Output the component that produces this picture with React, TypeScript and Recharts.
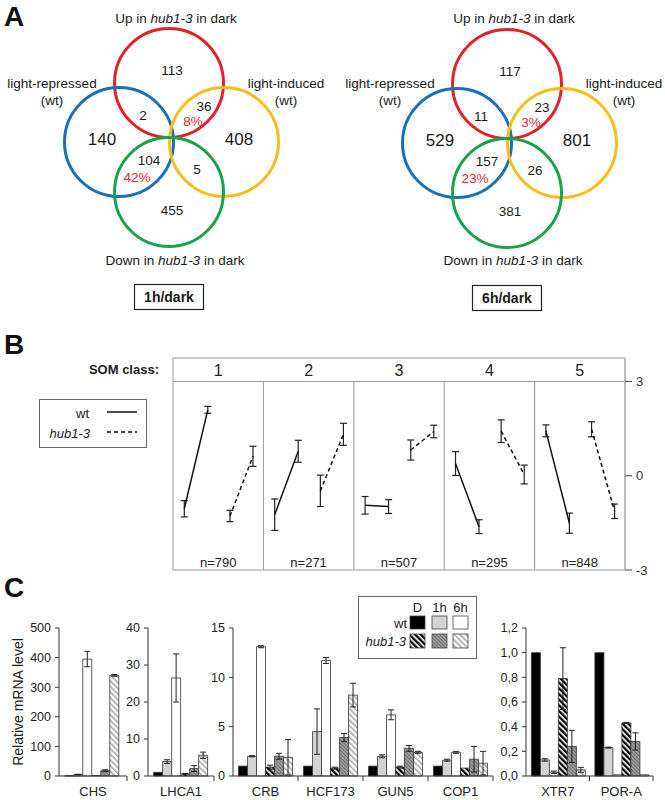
import React from 'react';
import {
  ScatterChart,
  Scatter,
  BarChart,
  Bar,
  XAxis,
  YAxis,
  ReferenceLine,
  ReferenceArea,
  ErrorBar,
  Legend
} from 'recharts';

const FONT = '"Liberation Sans", Arial, Helvetica, sans-serif';
const INK = '#1a1a1a';

// ---------- A: Venn diagrams ----------
const vennPanels = ['1h/dark', '6h/dark'];
const vennSetNames = ['Up in hub1-3 in dark', 'light-repressed\n(wt)', 'light-induced\n(wt)', 'Down in hub1-3 in dark'];
const vennColors = ['#e4202a', '#1a70b7', '#f6bd1d', '#18a24a'];
// regions: up, up&rep, up&ind, rep, ind, down&rep, down&ind, down
const counts1h = [113, 2, 36, 140, 408, 104, 5, 455];
const counts6h = [117, 11, 23, 529, 801, 157, 26, 381];
const overlapPct1h = ['8%', '42%'];
const overlapPct6h = ['3%', '23%'];

// layout of one diagram (px); the second one is shifted by VENN_DX
const VENN_DX = 338;
const VENN_R = 54.5;
const circlePos = [[169, 83], [119, 142], [224, 142], [169, 192]];
const regionPos = [[172, 70], [143, 115], [204, 106], [102, 139], [239, 139], [149, 160], [197, 169], [172, 210]];
const bigRegion = [false, false, false, true, true, false, false, false];
const pctPos = [[193, 121], [137, 177]];
const setLabelPos = [[176, 18], [52, 83], [286, 83], [175, 260]];
const boxPos = [169, 297];

// ---------- B: SOM classes ----------
const somClasses = ['1', '2', '3', '4', '5'];
const somN = [790, 271, 507, 295, 848];
const wtStart = [-1.05, -1.24, -0.94, 0.39, 1.43];
const wtStartErr = [0.26, 0.5, 0.28, 0.38, 0.19];
const wtEnd = [2.1, 0.78, -0.98, -1.62, -1.51];
const wtEndErr = [0.11, 0.35, 0.22, 0.22, 0.32];
const hubStart = [-1.28, -0.48, 0.82, 1.42, 1.48];
const hubStartErr = [0.18, 0.5, 0.32, 0.36, 0.24];
const hubEnd = [0.62, 1.32, 1.41, 0.04, -1.13];
const hubEndErr = [0.32, 0.35, 0.2, 0.3, 0.23];
const SOM_X = [0.125, 0.385, 0.63, 0.885];

// ---------- C: qRT-PCR ----------
const genes = ['CHS', 'LHCA1', 'CRB', 'HCF173', 'GUN5', 'COP1', 'XTR7', 'POR-A'];
const wtD = [1, 1, 1, 1, 1, 1, 1, 1];
const wt1h = [5, 3.9, 2.0, 4.5, 2.0, 1.6, 0.13, 0.23];
const wt1hErr = [1, 0.5, 0.05, 2.3, 0.15, 0.1, 0.01, 0.004];
const wt6h = [395, 26.5, 13.1, 11.7, 6.2, 2.4, 0.03, 0.01];
const wt6hErr = [26, 6.5, 0.1, 0.3, 0.5, 0.1, 0.01, 0];
const hubD = [1.5, 0.6, 0.9, 0.8, 0.9, 0.8, 0.79, 0.43];
const hubDErr = [0, 0.1, 0.2, 0.1, 0.1, 0, 0.25, 0.005];
const hub1h = [18, 2.0, 2.0, 3.9, 2.8, 1.7, 0.24, 0.28];
const hub1hErr = [3, 0.8, 0.3, 0.4, 0.3, 1.3, 0.13, 0.07];
const hub6h = [340, 5.6, 1.9, 8.2, 2.4, 1.3, 0.05, 0.01];
const hub6hErr = [3, 0.85, 1.8, 1.2, 0.1, 1.2, 0.02, 0];

const geneGroups = [[0], [1], [2, 3, 4, 5], [6, 7]];
const groupTicks = [
  [0, 100, 200, 300, 400, 500],
  [0, 10, 20, 30, 40],
  [0, 5, 10, 15],
  [0, 0.2, 0.4, 0.6, 0.8, 1.0, 1.2]
];

const barSeries = [
  { key: 'wtD', fill: '#000' },
  { key: 'wt1h', fill: '#d3d3d3', err: 'wt1hErr' },
  { key: 'wt6h', fill: '#fff', err: 'wt6hErr' },
  { key: 'hubD', fill: 'url(#patHubD)', err: 'hubDErr' },
  { key: 'hub1h', fill: 'url(#patHub1h)', err: 'hub1hErr' },
  { key: 'hub6h', fill: 'url(#patHub6h)', err: 'hub6hErr' }
];

// chart boxes for panel C (left, width, y-axis width, right margin)
const cLayout = [
  { left: 0, width: 135, yw: 59, right: 8 },
  { left: 116, width: 107, yw: 32, right: 9 },
  { left: 200, width: 301, yw: 33, right: 8 },
  { left: 486, width: 179, yw: 40, right: 12 }
];

const rich = (s: string) =>
  s.split(/(hub1-3)/).map((part, i) =>
    part === 'hub1-3' ? <tspan key={i} fontStyle="italic">{part}</tspan> : part
  );

// build venn label tables
const vennCircles = vennColors.map((color, i) => ({
  color,
  points: vennPanels.map((_, p) => ({ x: circlePos[i][0] + p * VENN_DX, y: circlePos[i][1] + p }))
}));

const vennLabels: any[] = [];
const vennBoxes: any[] = [];
vennPanels.forEach((title, p) => {
  const dx = p * VENN_DX;
  const counts = p === 0 ? counts1h : counts6h;
  const pct = p === 0 ? overlapPct1h : overlapPct6h;
  counts.forEach((c, i) =>
    vennLabels.push({ x: regionPos[i][0] + dx, y: regionPos[i][1] + p, text: String(c), size: bigRegion[i] ? 17 : 13.5, color: INK })
  );
  pct.forEach((t, i) =>
    vennLabels.push({ x: pctPos[i][0] + dx, y: pctPos[i][1] + p, text: t, size: 13.5, color: '#e3262c' })
  );
  vennSetNames.forEach((n, i) =>
    vennLabels.push({ x: setLabelPos[i][0] + dx, y: setLabelPos[i][1], text: n, size: 13.5, color: INK })
  );
  vennBoxes.push({ x: boxPos[0] + dx, y: boxPos[1] + p, text: title });
});

const TextShape = (props: any) => {
  const { cx, cy, payload } = props;
  const lines = String(payload.text).split('\n');
  return (
    <text
      x={cx}
      y={cy}
      textAnchor="middle"
      fontFamily={FONT}
      fontSize={payload.size}
      fill={payload.color}
      fontWeight={payload.bold ? 'bold' : 'normal'}
    >
      {lines.map((ln, i) => (
        <tspan key={i} x={cx} dy={i === 0 ? '0.35em' : '1.28em'}>
          {rich(ln)}
        </tspan>
      ))}
    </text>
  );
};

const BoxShape = (props: any) => {
  const { cx, cy, payload } = props;
  return (
    <g>
      <rect x={cx - 34.5} y={cy - 12.5} width={69} height={25} fill="#fff" stroke="#222" strokeWidth={1.2} />
      <text x={cx} y={cy} dy="0.35em" textAnchor="middle" fontFamily={FONT} fontSize={14} fontWeight="bold" fill={INK}>
        {payload.text}
      </text>
    </g>
  );
};

function VennPanel() {
  return (
    <ScatterChart width={665} height={330} margin={{ top: 0, right: 0, bottom: 0, left: 0 }}>
      <XAxis type="number" dataKey="x" domain={[0, 665]} hide />
      <YAxis type="number" dataKey="y" domain={[0, 330]} reversed hide />
      {vennCircles.map((c) => (
        <Scatter
          key={c.color}
          data={c.points}
          isAnimationActive={false}
          shape={(p: any) => <circle cx={p.cx} cy={p.cy} r={VENN_R} fill="none" stroke={c.color} strokeWidth={3} />}
        />
      ))}
      <Scatter data={vennLabels} isAnimationActive={false} shape={TextShape} />
      <Scatter data={vennBoxes} isAnimationActive={false} shape={BoxShape} />
    </ScatterChart>
  );
}

// ---------- B ----------
const seg = (i: number, a: number, ae: number, b: number, be: number, k: number) => [
  { x: i + SOM_X[k], y: a, e: ae },
  { x: i + SOM_X[k + 1], y: b, e: be }
];
const wtSegs = somClasses.map((_, i) => seg(i, wtStart[i], wtStartErr[i], wtEnd[i], wtEndErr[i], 0));
const hubSegs = somClasses.map((_, i) => seg(i, hubStart[i], hubStartErr[i], hubEnd[i], hubEndErr[i], 2));
const somHeader = somClasses.map((c, i) => ({ x: i + 0.5, y: 3.35, text: c, size: 16, color: '#222' }));
const somCounts = somN.map((n, i) => ({ x: i + 0.5, y: -2.75, text: `n=${n}`, size: 13, color: '#222' }));

const SomLegend = () => (
  <svg width={108} height={49} style={{ display: 'block' }}>
    <rect x={0.5} y={0.5} width={107} height={48} fill="#fff" stroke="#666" />
    <text x={50} y={14} dy="0.35em" textAnchor="end" fontFamily={FONT} fontSize={13} fill="#222">wt</text>
    <line x1={68} x2={98} y1={13} y2={13} stroke="#111" strokeWidth={1.5} />
    <text x={51} y={34} dy="0.35em" textAnchor="end" fontFamily={FONT} fontSize={13} fontStyle="italic" fill="#222">hub1-3</text>
    <line x1={68} x2={98} y1={33} y2={33} stroke="#111" strokeWidth={1.5} strokeDasharray="4 3" />
  </svg>
);

function SomPanel() {
  const grey = '#999';
  return (
    <ScatterChart width={665} height={240} margin={{ top: 18, right: 10, bottom: 10, left: 173 }}>
      <XAxis type="number" dataKey="x" domain={[0, 5]} hide />
      <YAxis
        type="number"
        dataKey="y"
        orientation="right"
        domain={[-3, 3.75]}
        ticks={[-3, 0, 3]}
        interval={0}
        width={30}
        axisLine={{ stroke: '#bbb', strokeWidth: 2 }}
        tickLine={{ stroke: '#444' }}
        tickSize={7}
        tickMargin={4}
        tick={{ fontSize: 13, fill: '#333', fontFamily: FONT }}
      />
      <Legend
        layout="horizontal"
        verticalAlign="middle"
        align="center"
        content={<SomLegend />}
        wrapperStyle={{ left: 39, top: 59, width: 108, height: 49 }}
      />
      <ReferenceArea
        x1={0}
        x2={5}
        y1={3}
        y2={3.75}
        fill="none"
        stroke="none"
        label={{ value: 'SOM class:', position: 'left', offset: 14, fontSize: 13, fontWeight: 'bold', fill: '#222', fontFamily: FONT }}
      />
      <ReferenceLine y={3.75} stroke={grey} />
      <ReferenceLine y={3} stroke={grey} />
      <ReferenceLine y={-3} stroke={grey} />
      <ReferenceLine x={0} stroke={grey} />
      {[1, 2, 3, 4].map((x) => (
        <ReferenceLine key={x} segment={[{ x, y: -3 }, { x, y: 3 }]} stroke={grey} />
      ))}
      <Scatter data={somHeader} isAnimationActive={false} shape={TextShape} />
      <Scatter data={somCounts} isAnimationActive={false} shape={TextShape} />
      {wtSegs.map((d, i) => (
        <Scatter
          key={`wt${i}`}
          data={d}
          fill="#111"
          isAnimationActive={false}
          line={{ stroke: '#111', strokeWidth: 1.5 }}
          shape={() => <g />}
        >
          <ErrorBar dataKey="e" direction="y" width={3.5} stroke="#222" strokeWidth={1.2} />
        </Scatter>
      ))}
      {hubSegs.map((d, i) => (
        <Scatter
          key={`hub${i}`}
          data={d}
          fill="#111"
          isAnimationActive={false}
          line={{ stroke: '#111', strokeWidth: 1.5, strokeDasharray: '4 3' }}
          shape={() => <g />}
        >
          <ErrorBar dataKey="e" direction="y" width={3.5} stroke="#222" strokeWidth={1.2} />
        </Scatter>
      ))}
    </ScatterChart>
  );
}

// ---------- C ----------
const geneRows = genes.map((gene, i) => ({
  gene,
  wtD: wtD[i],
  wt1h: wt1h[i],
  wt1hErr: wt1hErr[i],
  wt6h: wt6h[i],
  wt6hErr: wt6hErr[i],
  hubD: hubD[i],
  hubDErr: hubDErr[i],
  hub1h: hub1h[i],
  hub1hErr: hub1hErr[i],
  hub6h: hub6h[i],
  hub6hErr: hub6hErr[i]
}));

const Patterns = () => (
  <svg width={0} height={0} style={{ position: 'absolute' }}>
    <defs>
      <pattern id="patHubD" width={4} height={4} patternUnits="userSpaceOnUse" patternTransform="rotate(-45)">
        <rect width={4} height={4} fill="#fff" />
        <rect width={2.3} height={4} fill="#000" />
      </pattern>
      <pattern id="patHub1h" width={2.5} height={2.5} patternUnits="userSpaceOnUse" patternTransform="rotate(-45)">
        <rect width={2.5} height={2.5} fill="#a2a2a2" />
        <rect width={1} height={2.5} fill="#6c6c6c" />
      </pattern>
      <pattern id="patHub6h" width={4} height={4} patternUnits="userSpaceOnUse" patternTransform="rotate(-45)">
        <rect width={4} height={4} fill="#fff" />
        <rect width={1.6} height={4} fill="#a8a8a8" />
      </pattern>
    </defs>
  </svg>
);

const GeneTick = (props: any) => {
  const { x, y, payload, half } = props;
  return (
    <g>
      <line x1={x + half} x2={x + half} y1={y - 11} y2={y - 6} stroke="#333" />
      <text x={x} y={y} dy="0.71em" textAnchor="middle" fontFamily={FONT} fontSize={13} fill="#222">
        {payload.value}
      </text>
    </g>
  );
};

const GenotypeLegend = () => {
  const cols = [52, 74, 95];
  const wtFills = ['#000', '#d3d3d3', '#fff'];
  const hubFills = ['url(#patHubD)', 'url(#patHub1h)', 'url(#patHub6h)'];
  return (
    <svg width={119} height={63} style={{ display: 'block' }}>
      <rect x={0.5} y={0.5} width={118} height={62} fill="#fff" stroke="#666" />
      {['D', '1h', '6h'].map((t, i) => (
        <text key={t} x={cols[i] + 7.5} y={11} dy="0.35em" textAnchor="middle" fontFamily={FONT} fontSize={13} fill="#222">{t}</text>
      ))}
      <text x={49} y={27} dy="0.35em" textAnchor="end" fontFamily={FONT} fontSize={13} fill="#222">wt</text>
      <text x={48} y={45} dy="0.35em" textAnchor="end" fontFamily={FONT} fontSize={13} fontStyle="italic" fill="#222">hub1-3</text>
      {cols.map((cx, i) => (
        <g key={cx}>
          <rect x={cx} y={20} width={15} height={13} fill={wtFills[i]} stroke="#444" strokeWidth={0.8} />
          <rect x={cx} y={38} width={15} height={14} fill={hubFills[i]} stroke="#444" strokeWidth={0.8} />
        </g>
      ))}
    </svg>
  );
};

function GeneChart({ g }: { g: number }) {
  const lay = cLayout[g];
  const rows = geneGroups[g].map((i) => geneRows[i]);
  const ticks = groupTicks[g];
  const plotW = lay.width - lay.yw - lay.right;
  const half = plotW / rows.length / 2;
  const fmt = (v: number) => (g === 3 ? v.toFixed(1).replace('.', ',') : String(v));
  return (
    <div style={{ position: 'absolute', left: lay.left, top: 600 }}>
      <BarChart
        width={lay.width}
        height={200}
        data={rows}
        margin={{ top: 28, right: lay.right, bottom: 0, left: 0 }}
        barGap={0}
        barCategoryGap="8.5%"
      >
        <XAxis
          dataKey="gene"
          interval={0}
          height={24}
          tickLine={false}
          tickSize={0}
          tickMargin={11}
          axisLine={{ stroke: '#333' }}
          tick={(p: any) => <GeneTick {...p} half={half} />}
        />
        <YAxis
          width={lay.yw}
          domain={[ticks[0], ticks[ticks.length - 1]]}
          ticks={ticks}
          interval={0}
          tickFormatter={fmt}
          axisLine={{ stroke: '#333' }}
          tickLine={{ stroke: '#333' }}
          tickSize={4}
          tickMargin={4}
          tick={{ fontSize: 12.5, fill: '#222', fontFamily: FONT }}
          label={
            g === 0
              ? { value: 'Relative mRNA level', angle: -90, position: 'insideLeft', offset: 18, style: { fontSize: 14, fill: '#222', fontFamily: FONT, textAnchor: 'middle' } }
              : undefined
          }
        />
        {g === 2 && (
          <Legend
            layout="horizontal"
            verticalAlign="middle"
            align="center"
            content={<GenotypeLegend />}
            wrapperStyle={{ left: 158, top: -4, width: 119, height: 63 }}
          />
        )}
        {barSeries.map((s) => (
          <Bar key={s.key} dataKey={s.key} fill={s.fill} stroke="#333" strokeWidth={0.8} isAnimationActive={false}>
            {s.err && <ErrorBar dataKey={s.err} width={3} stroke="#222" strokeWidth={1} direction="y" />}
          </Bar>
        ))}
      </BarChart>
    </div>
  );
}

const letter = (t: string, top: number) => (
  <div
    style={{
      position: 'absolute',
      left: 4,
      top,
      fontFamily: FONT,
      fontWeight: 'bold',
      fontSize: 28,
      lineHeight: '28px',
      color: '#111'
    }}
  >
    {t}
  </div>
);

export default function App() {
  return (
    <div style={{ position: 'absolute', left: 0, top: 0, width: 665, height: 800, background: '#fff', fontFamily: FONT }}>
      <Patterns />
      <div style={{ position: 'absolute', left: 0, top: 0 }}>
        <VennPanel />
      </div>
      <div style={{ position: 'absolute', left: 0, top: 340 }}>
        <SomPanel />
      </div>
      {geneGroups.map((_, g) => (
        <GeneChart key={g} g={g} />
      ))}
      {letter('A', 3)}
      {letter('B', 331)}
      {letter('C', 574)}
    </div>
  );
}
